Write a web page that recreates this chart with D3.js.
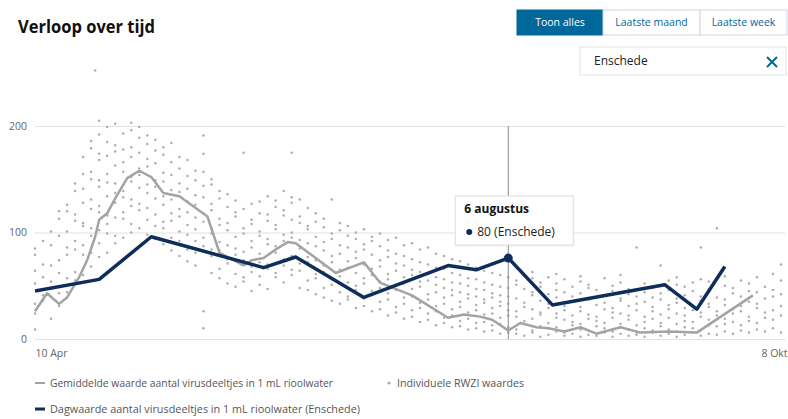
<!DOCTYPE html>
<html>
<head>
<meta charset="utf-8">
<script src="https://cdn.jsdelivr.net/npm/d3@7"></script>
<style>
  body { margin: 0; background: #fff; font-family: "Open Sans", sans-serif; }
</style>
</head>
<body>
<script>
const width = 788;
const height = 419;

// time axis
const startDate = new Date(2020, 3, 10);
const endDate = new Date(2020, 9, 14);
const tickDates = [new Date(2020, 3, 10), new Date(2020, 9, 8)];
const tickLabels = ["10 Apr", "8 Okt"];
const yTicks = [0, 100, 200];

// gemiddelde waarde (days after 10 Apr)
const avgDays = [0, 3, 6, 8, 11, 13, 15, 16, 18, 20, 23, 26, 29, 32, 36, 43, 46, 49, 52, 54, 57, 60, 63, 65, 75, 82, 86, 94, 103, 107, 111, 114, 118, 121, 125, 128, 132, 136, 140, 146, 151, 158, 165, 171, 179];
const avgValues = [26, 43, 33, 39, 58, 74, 96, 112, 118, 132, 151, 158, 152, 137, 134, 115, 81, 75, 69, 74, 76, 84, 91, 90, 62, 72, 53, 41, 20, 23, 21, 18, 8, 15, 11, 10, 7, 11, 5, 11, 6, 7, 6, 21, 41];

// dagwaarde Enschede
const enschedeDays = [0, 16, 29, 57, 65, 82, 103, 110, 118, 129, 157, 165, 172];
const enschedeValues = [45, 56, 96, 67, 77, 39, 69, 65, 76, 32, 51, 28, 68];

// individuele RWZI waardes, one column per day
const rwziDays = [0, 2, 4, 6, 8, 10, 12, 14, 15, 16, 18, 20, 22, 24, 26, 28, 30, 32, 34, 36, 38, 40, 42, 44, 46, 48, 50, 52, 54, 56, 58, 60, 62, 64, 66, 68, 70, 72, 74, 76, 78, 80, 82, 84, 86, 88, 90, 92, 94, 96, 98, 100, 102, 104, 106, 108, 110, 112, 114, 116, 118, 120, 122, 124, 126, 128, 130, 132, 134, 136, 138, 140, 142, 144, 146, 148, 150, 152, 154, 156, 158, 160, 162, 164, 166, 168, 170, 172, 174, 176, 178, 180, 182, 184, 186];
const rwziValues = [
  [9, 24, 33, 52, 64, 79, 85],
  [36, 41, 58, 70, 92],
  [19, 47, 54, 69, 88, 101],
  [31, 43, 62, 74, 97, 113, 120],
  [44, 57, 79, 86, 101, 120, 126],
  [55, 63, 84, 92, 111, 117, 139, 146],
  [60, 79, 88, 106, 109, 128, 141, 155, 171],
  [68, 81, 97, 104, 122, 131, 150, 157, 179, 186],
  [252],
  [77, 90, 102, 119, 125, 143, 149, 168, 174, 192, 205],
  [81, 99, 108, 116, 134, 147, 155, 172, 185, 199],
  [90, 97, 114, 128, 137, 146, 163, 176, 182, 202],
  [95, 113, 119, 133, 139, 157, 166, 178, 193],
  [100, 108, 125, 131, 148, 152, 171, 180, 196, 203],
  [104, 121, 127, 142, 154, 160, 175, 189, 199],
  [98, 112, 123, 137, 145, 162, 169, 183, 191],
  [94, 106, 117, 132, 143, 149, 165, 177, 187],
  [89, 104, 110, 126, 134, 148, 156, 173, 180],
  [83, 95, 111, 118, 131, 140, 154, 166, 184],
  [78, 92, 101, 115, 122, 138, 146, 160, 171],
  [73, 84, 98, 107, 119, 129, 141, 153, 168],
  [69, 81, 92, 103, 114, 126, 135, 149, 158],
  [10, 26, 87, 95, 110, 118, 133, 144, 157, 174, 191],
  [62, 78, 84, 99, 104, 121, 127, 145, 150],
  [57, 66, 83, 91, 107, 113, 132, 139],
  [52, 71, 75, 88, 102, 109, 124, 136],
  [49, 61, 79, 85, 96, 115, 119, 130],
  [54, 58, 74, 82, 99, 104, 122, 175],
  [45, 63, 68, 86, 92, 108, 112, 127],
  [51, 59, 72, 80, 97, 101, 118, 129],
  [47, 66, 70, 89, 94, 111, 117, 134],
  [58, 62, 81, 87, 103, 107, 124, 130],
  [53, 69, 75, 92, 98, 116, 121, 139],
  [60, 65, 78, 95, 100, 112, 128, 133, 175],
  [48, 64, 71, 85, 93, 109, 115, 131],
  [46, 55, 72, 77, 90, 103, 106, 123],
  [42, 57, 61, 74, 87, 96, 110, 118],
  [39, 48, 63, 69, 83, 91, 105, 113],
  [36, 51, 56, 72, 78, 94, 99, 131],
  [33, 44, 59, 65, 80, 88, 102, 109],
  [37, 40, 53, 67, 73, 86, 97, 106],
  [29, 46, 50, 62, 76, 82, 94, 100],
  [31, 38, 52, 57, 70, 84, 89, 103],
  [26, 41, 45, 60, 66, 79, 92, 96],
  [28, 35, 48, 54, 68, 74, 87, 99],
  [22, 37, 43, 56, 61, 77, 83, 93],
  [25, 30, 46, 50, 64, 71, 80, 95],
  [19, 33, 39, 52, 58, 69, 78, 88],
  [21, 27, 40, 47, 60, 65, 75, 90],
  [16, 29, 34, 49, 54, 63, 72, 84],
  [18, 24, 37, 42, 55, 61, 70, 86],
  [13, 26, 31, 44, 51, 58, 67, 80],
  [15, 20, 33, 39, 48, 56, 66, 78],
  [11, 22, 28, 41, 46, 53, 62, 75],
  [12, 17, 30, 35, 44, 52, 60, 73],
  [9, 19, 25, 38, 42, 50, 57, 70],
  [10, 15, 27, 32, 40, 47, 56, 67],
  [7, 16, 23, 34, 37, 46, 53, 64],
  [8, 13, 24, 29, 39, 43, 51, 62],
  [5, 14, 20, 31, 35, 41, 49, 60],
  [6, 11, 22, 27, 33, 40, 48, 58],
  [5, 9, 21, 26, 38, 51, 55, 68],
  [3, 14, 17, 30, 34, 47, 60],
  [6, 8, 19, 28, 41, 44, 57, 63],
  [2, 12, 23, 25, 36, 49, 53],
  [4, 10, 15, 29, 33, 42, 58],
  [7, 11, 20, 24, 39, 46, 52, 61],
  [3, 6, 18, 27, 31, 44, 56],
  [5, 13, 16, 22, 35, 40, 49],
  [2, 9, 14, 26, 30, 43, 54, 59],
  [4, 8, 19, 23, 37, 48, 51],
  [3, 12, 17, 21, 32, 39, 46],
  [6, 10, 15, 28, 34, 41, 57],
  [2, 7, 20, 25, 29, 45, 50],
  [5, 11, 14, 24, 36, 38, 53, 60],
  [3, 9, 18, 22, 31, 42, 47],
  [4, 6, 13, 27, 33, 40, 86],
  [2, 10, 16, 21, 35, 44, 52],
  [6, 8, 19, 26, 30, 39, 48],
  [3, 12, 15, 23, 37, 43, 69],
  [5, 9, 20, 28, 32, 46, 55],
  [2, 7, 14, 24, 34, 38, 51, 58],
  [4, 11, 17, 22, 29, 41, 49],
  [6, 10, 16, 27, 31, 45, 53],
  [3, 8, 21, 25, 36, 40, 56, 86],
  [5, 13, 18, 30, 33, 47, 54],
  [4, 12, 22, 26, 39, 104],
  [7, 14, 19, 32, 37, 50, 59],
  [5, 16, 24, 28, 43, 48],
  [8, 13, 26, 31, 40, 55],
  [6, 17, 21, 35, 45, 52],
  [9, 15, 29, 33, 44, 58],
  [7, 20, 25, 38, 49],
  [10, 18, 27, 40, 46, 61],
  [6, 22, 31, 42, 55, 70]
];

// tooltip
const tooltipDay = 118;
const tooltipTitle = "6 augustus";
const tooltipText = "80 (Enschede)";

const buttonLabels = ["Toon alles", "Laatste maand", "Laatste week"];
const buttonWidths = [86, 97, 87];

const blue = "#01689b";
const dark = "#0f2d5a";
const grey = "#a3a3a3";

const dayToDate = (d) => d3.timeDay.offset(startDate, d);

let svg = d3
  .select("body")
  .append("svg")
  .attr("width", width)
  .attr("height", height)
  .style("font-family", '"Open Sans", sans-serif');

let x = d3.scaleTime().domain([startDate, endDate]).range([35, 785]);
let y = d3.scaleLinear().domain([0, 200]).range([339, 126]);

// title
svg
  .append("text")
  .attr("x", 18)
  .attr("y", 33)
  .attr("font-size", 17)
  .attr("font-weight", 700)
  .attr("fill", "#111")
  .attr("textLength", 137)
  .attr("lengthAdjust", "spacingAndGlyphs")
  .text("Verloop over tijd");

// button group
let bx = 517;
let buttons = svg.append("g");
buttonLabels.forEach((label, i) => {
  let w = buttonWidths[i];
  buttons
    .append("rect")
    .attr("x", bx)
    .attr("y", 10)
    .attr("width", w)
    .attr("height", 25)
    .attr("fill", i === 0 ? blue : "#fff")
    .attr("stroke", i === 0 ? blue : "#cfd8e0");
  buttons
    .append("text")
    .attr("x", bx + w / 2)
    .attr("y", 26)
    .attr("text-anchor", "middle")
    .attr("font-size", 10.5)
    .attr("fill", i === 0 ? "#fff" : blue)
    .text(label);
  bx += w;
});

// search box
svg
  .append("rect")
  .attr("x", 580)
  .attr("y", 47)
  .attr("width", 206)
  .attr("height", 28)
  .attr("fill", "#fff")
  .attr("stroke", "#e3e3e3");
svg
  .append("text")
  .attr("x", 594)
  .attr("y", 65)
  .attr("font-size", 12)
  .attr("fill", "#222")
  .text("Enschede");
svg
  .append("path")
  .attr("d", "M767,57L777,67M777,57L767,67")
  .attr("stroke", blue)
  .attr("stroke-width", 2);

// y axis with gridlines
let yAxis = d3
  .axisLeft(y)
  .tickValues(yTicks)
  .tickSize(-750)
  .tickPadding(8);
let yG = svg.append("g").attr("transform", "translate(35,0)").call(yAxis);
yG.select(".domain").remove();
yG.selectAll(".tick line").attr("stroke", "#e2e2e2").attr("stroke-width", 1.2);
yG.selectAll(".tick text")
  .attr("fill", "#666")
  .attr("font-size", 10.5)
  .attr("font-family", '"Open Sans", sans-serif');

// x axis
let xAxis = d3
  .axisBottom(x)
  .tickValues(tickDates)
  .tickFormat((d, i) => tickLabels[i])
  .tickSize(0)
  .tickPadding(11);
let xG = svg.append("g").attr("transform", "translate(0,339)").call(xAxis);
xG.select(".domain").remove();
xG.selectAll(".tick text")
  .attr("text-anchor", "start")
  .attr("fill", "#666")
  .attr("font-size", 10.5)
  .attr("font-family", '"Open Sans", sans-serif');

// scatter
let dots = [];
rwziDays.forEach((d, i) => {
  rwziValues[i].forEach((v) => dots.push({ day: d, value: v }));
});
svg
  .append("g")
  .selectAll("circle")
  .data(dots)
  .join("circle")
  .attr("cx", (d) => x(dayToDate(d.day)))
  .attr("cy", (d) => y(d.value))
  .attr("r", 1.25)
  .attr("fill", "#adadad");

// tooltip vertical line
let tx = x(dayToDate(tooltipDay));
svg
  .append("line")
  .attr("x1", tx)
  .attr("x2", tx)
  .attr("y1", y(200))
  .attr("y2", y(0))
  .attr("stroke", "#8a8a8a")
  .attr("stroke-width", 1);

// average line
let line = d3
  .line()
  .x((d) => x(dayToDate(d[0])))
  .y((d) => y(d[1]));

svg
  .append("path")
  .datum(d3.zip(avgDays, avgValues))
  .attr("d", line)
  .attr("fill", "none")
  .attr("stroke", grey)
  .attr("stroke-width", 2.5)
  .attr("stroke-linejoin", "round");

svg
  .append("path")
  .datum(d3.zip(enschedeDays, enschedeValues))
  .attr("d", line)
  .attr("fill", "none")
  .attr("stroke", dark)
  .attr("stroke-width", 3.5)
  .attr("stroke-linejoin", "round");

let ti = enschedeDays.indexOf(tooltipDay);
svg
  .append("circle")
  .attr("cx", tx)
  .attr("cy", y(enschedeValues[ti]))
  .attr("r", 4.5)
  .attr("fill", dark);

// tooltip box
let tip = svg.append("g").attr("transform", `translate(${tx - 53},196)`);
tip
  .append("rect")
  .attr("x", 1)
  .attr("y", 1.5)
  .attr("width", 118)
  .attr("height", 49)
  .attr("fill", "#000")
  .attr("opacity", 0.06);
tip
  .append("rect")
  .attr("width", 118)
  .attr("height", 49)
  .attr("fill", "#fff")
  .attr("stroke", "#dcdcdc");
tip
  .append("text")
  .attr("x", 9)
  .attr("y", 17)
  .attr("font-size", 12)
  .attr("font-weight", 700)
  .attr("fill", "#111")
  .text(tooltipTitle);
tip
  .append("circle")
  .attr("cx", 14)
  .attr("cy", 36)
  .attr("r", 3)
  .attr("fill", dark);
tip
  .append("text")
  .attr("x", 22)
  .attr("y", 40)
  .attr("font-size", 12)
  .attr("fill", "#222")
  .text(tooltipText);

// legend
let legend = svg.append("g");
legend
  .append("line")
  .attr("x1", 35)
  .attr("x2", 45)
  .attr("y1", 383)
  .attr("y2", 383)
  .attr("stroke", grey)
  .attr("stroke-width", 2);
legend
  .append("text")
  .attr("x", 50)
  .attr("y", 387)
  .attr("font-size", 10.5)
  .attr("fill", "#555")
  .attr("textLength", 283)
  .attr("lengthAdjust", "spacingAndGlyphs")
  .text("Gemiddelde waarde aantal virusdeeltjes in 1 mL rioolwater");
legend
  .append("circle")
  .attr("cx", 389)
  .attr("cy", 383)
  .attr("r", 1.6)
  .attr("fill", "#adadad");
legend
  .append("text")
  .attr("x", 397)
  .attr("y", 387)
  .attr("font-size", 10.5)
  .attr("fill", "#555")
  .attr("textLength", 127)
  .attr("lengthAdjust", "spacingAndGlyphs")
  .text("Individuele RWZI waardes");
legend
  .append("line")
  .attr("x1", 35)
  .attr("x2", 45)
  .attr("y1", 409)
  .attr("y2", 409)
  .attr("stroke", dark)
  .attr("stroke-width", 3);
legend
  .append("text")
  .attr("x", 50)
  .attr("y", 413)
  .attr("font-size", 10.5)
  .attr("fill", "#555")
  .attr("textLength", 310)
  .attr("lengthAdjust", "spacingAndGlyphs")
  .text("Dagwaarde aantal virusdeeltjes in 1 mL rioolwater (Enschede)");
</script>
</body>
</html>
